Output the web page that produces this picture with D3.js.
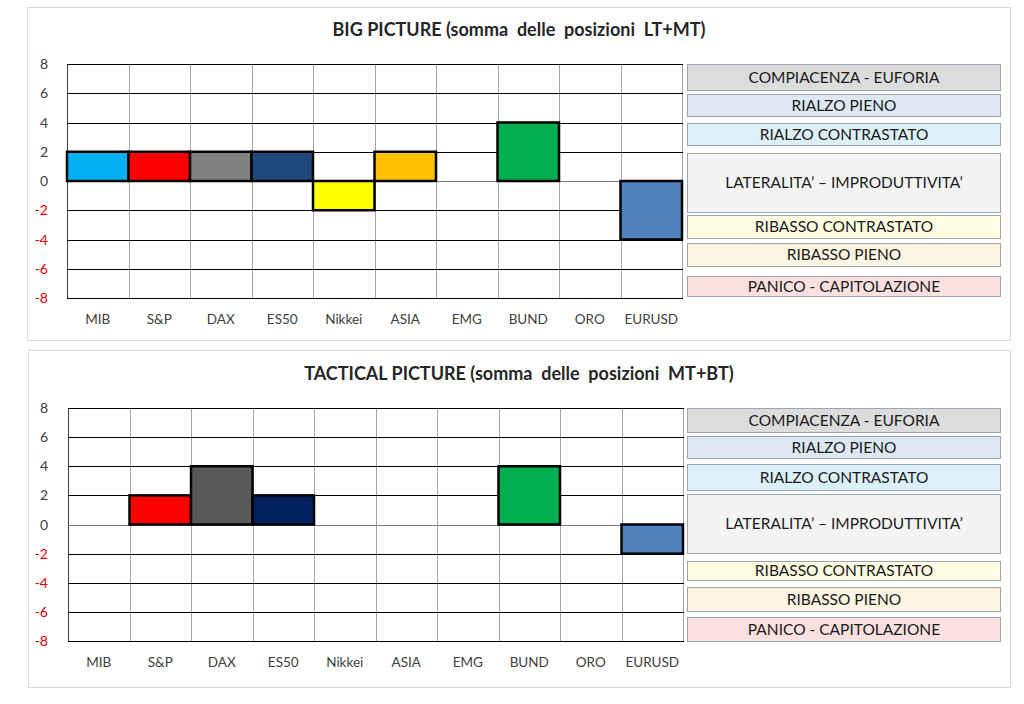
<!DOCTYPE html>
<html>
<head>
<meta charset="utf-8">
<script src="https://cdn.jsdelivr.net/npm/d3@7"></script>
<style>
  body { margin: 0; background: #fff; }
  svg { font-family: Lato, "Open Sans", sans-serif; }
</style>
</head>
<body>
<svg id="chart" width="1024" height="704"></svg>
<script>
// data
var categories = ["MIB", "S&P", "DAX", "ES50", "Nikkei", "ASIA", "EMG", "BUND", "ORO", "EURUSD"];
var bigValues = [2, 2, 2, 2, -2, 2, 0, 4, 0, -4];
var bigColors = ["#00b0f0", "#ff0000", "#808080", "#1f497d", "#ffff00", "#ffc000", "#ffffff", "#00b050", "#ffffff", "#4f81bd"];
var tacticalValues = [0, 2, 4, 2, 0, 0, 0, 4, 0, -2];
var tacticalColors = ["#ffffff", "#ff0000", "#595959", "#002060", "#ffffff", "#ffffff", "#ffffff", "#00b050", "#ffffff", "#4f81bd"];
var yTicks = [8, 6, 4, 2, 0, -2, -4, -6, -8];
var legendLabels = ["COMPIACENZA - EUFORIA", "RIALZO PIENO", "RIALZO CONTRASTATO",
  "LATERALITA\u2019 \u2013 IMPRODUTTIVITA\u2019", "RIBASSO CONTRASTATO", "RIBASSO PIENO", "PANICO - CAPITOLAZIONE"];
var legendFills = ["#dcdcdc", "#dde8f4", "#dcf0f8", "#f4f4f4", "#fefde2", "#fdf6e2", "#fbe0e0"];

// layout (pixels)
var panels = [
  { title: "BIG PICTURE (somma  delle  posizioni  LT+MT)", values: bigValues, colors: bigColors,
    frame: [27, 7, 1010, 340], titleY: 36, plot: [67, 64, 682, 298], labelY: 324,
    rows: [[0, 26], [30, 52], [59, 81], [89, 148], [151, 174], [179, 202], [212, 232]] },
  { title: "TACTICAL PICTURE (somma  delle  posizioni  MT+BT)", values: tacticalValues, colors: tacticalColors,
    frame: [28, 350, 1010, 687], titleY: 380, plot: [68, 408, 683, 641], labelY: 667,
    rows: [[0, 24], [28, 50], [56, 82], [86, 145], [153, 172], [179, 203], [209, 233]] }
];

var svg = d3.select("#chart");

panels.forEach(function(p) {
  var g = svg.append("g");

  g.append("rect")
    .attr("x", p.frame[0] + 0.5).attr("y", p.frame[1] + 0.5)
    .attr("width", p.frame[2] - p.frame[0]).attr("height", p.frame[3] - p.frame[1])
    .attr("fill", "#fff").attr("stroke", "#d9d9d9");

  g.append("text")
    .attr("x", 519).attr("y", p.titleY)
    .attr("text-anchor", "middle")
    .attr("font-size", "18px").attr("font-weight", "bold")
    .attr("fill", "#262626")
    .style("white-space", "pre")
    .text(p.title);

  var x = d3.scaleBand().domain(categories).range([p.plot[0], p.plot[2]]).padding(0);
  var y = d3.scaleLinear().domain([-8, 8]).range([p.plot[3], p.plot[1]]);

  // vertical grid
  g.selectAll(".vg").data(categories.concat(["end"]))
    .enter().append("line")
    .attr("x1", function(d, i) { return Math.round(p.plot[0] + i * x.bandwidth()) + 0.5; })
    .attr("x2", function(d, i) { return Math.round(p.plot[0] + i * x.bandwidth()) + 0.5; })
    .attr("y1", y(8)).attr("y2", y(-8))
    .attr("stroke", function(d, i) { return i == 0 ? "#404040" : "#a6a6a6"; })
    .attr("stroke-width", 1);

  // horizontal grid
  g.selectAll(".hg").data(yTicks)
    .enter().append("line")
    .attr("x1", p.plot[0]).attr("x2", p.plot[2] + 1)
    .attr("y1", function(d) { return Math.round(y(d)) + 0.5; })
    .attr("y2", function(d) { return Math.round(y(d)) + 0.5; })
    .attr("stroke", function(d) { return d == 0 ? "#7f7f7f" : "#000"; })
    .attr("stroke-width", 1);

  // bars (zero values draw nothing)
  var bars = categories.map(function(c, i) {
    return { cat: c, value: p.values[i], color: p.colors[i] };
  }).filter(function(d) { return d.value != 0; });

  g.selectAll(".bar").data(bars)
    .enter().append("rect")
    .attr("x", function(d) { return x(d.cat); })
    .attr("y", function(d) { return y(Math.max(0, d.value)); })
    .attr("width", x.bandwidth())
    .attr("height", function(d) { return Math.abs(y(d.value) - y(0)); })
    .attr("fill", function(d) { return d.color; })
    .attr("stroke", "#000").attr("stroke-width", 2.5);

  // y axis labels
  g.selectAll(".yl").data(yTicks)
    .enter().append("text")
    .attr("x", 48).attr("y", function(d) { return y(d) + 5; })
    .attr("text-anchor", "end")
    .attr("font-size", "14px")
    .attr("fill", function(d) { return d < 0 ? "#e00000" : "#404040"; })
    .text(function(d) { return d; });

  // category labels
  g.selectAll(".xl").data(categories)
    .enter().append("text")
    .attr("x", function(d) { return x(d) + x.bandwidth() / 2; })
    .attr("y", p.labelY)
    .attr("text-anchor", "middle")
    .attr("font-size", "13.5px")
    .attr("fill", "#404040")
    .text(function(d) { return d; });

  // legend boxes
  var lg = g.selectAll(".lg").data(legendLabels).enter().append("g");
  lg.append("rect")
    .attr("x", 687.5).attr("y", function(d, i) { return p.plot[1] + p.rows[i][0] + 0.5; })
    .attr("width", 313)
    .attr("height", function(d, i) { return p.rows[i][1] - p.rows[i][0]; })
    .attr("fill", function(d, i) { return legendFills[i]; })
    .attr("stroke", "#9aa6b4");
  lg.append("text")
    .attr("x", 844)
    .attr("y", function(d, i) { return p.plot[1] + (p.rows[i][0] + p.rows[i][1]) / 2 + 5.5; })
    .attr("text-anchor", "middle")
    .attr("font-size", "15.5px")
    .attr("fill", "#1a1a1a")
    .text(function(d) { return d; });
});
</script>
</body>
</html>
